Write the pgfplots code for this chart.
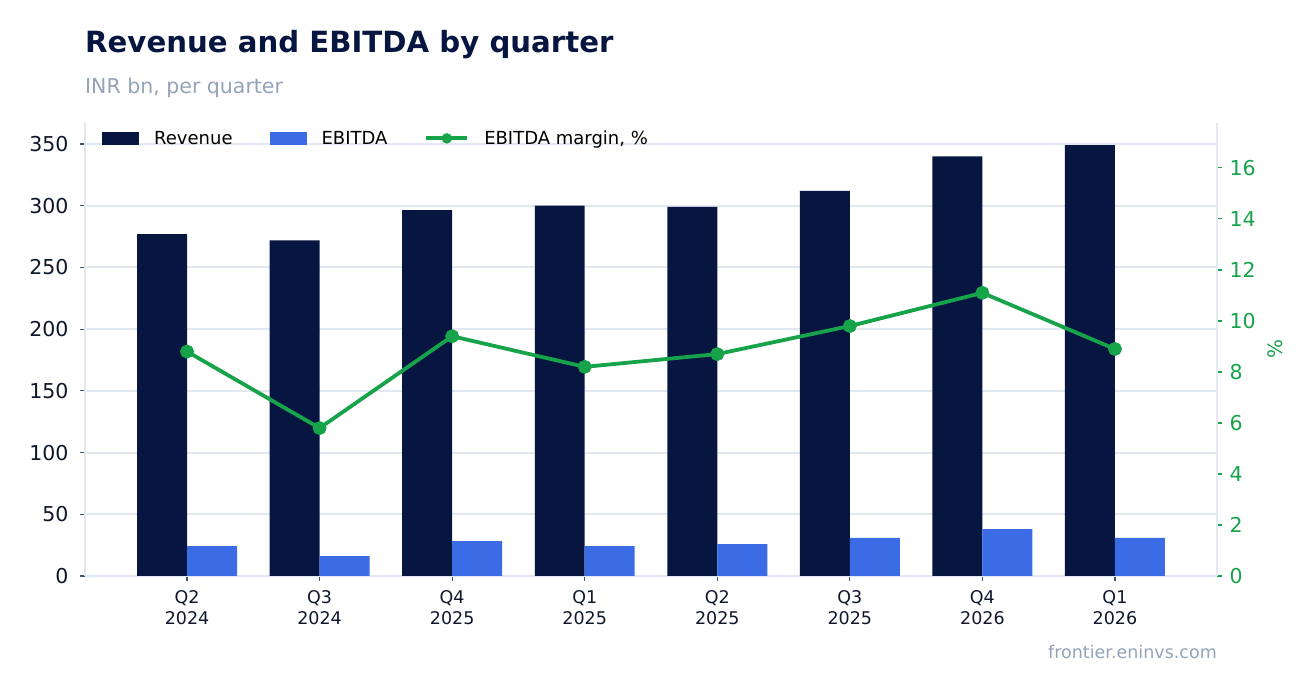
\documentclass[border=0pt]{standalone}
\usepackage{fontspec}
\setmainfont{DejaVu Sans}
\usepackage{pgfplots}
\pgfplotsset{compat=1.18}
\definecolor{navy}{RGB}{6,22,64}
\definecolor{ebit}{RGB}{59,108,229}
\definecolor{mgreen}{RGB}{22,163,74}
\definecolor{gridc}{RGB}{226,232,240}
\definecolor{subg}{RGB}{148,163,184}
\definecolor{tickc}{RGB}{71,85,105}
\definecolor{labc}{RGB}{15,23,42}
\begin{document}
\begin{tikzpicture}
\useasboundingbox (0,0) rectangle (1316pt,693pt);
\node[anchor=base west, font=\fontsize{29.2}{33}\selectfont\bfseries, text=navy, inner sep=0pt] at (85pt,640pt) {Revenue and EBITDA by quarter};
\node[anchor=base west, font=\fontsize{20.5}{24}\selectfont, text=subg, inner sep=0pt] at (85pt,599pt) {INR bn, per quarter};
\node[anchor=base east, font=\fontsize{17.5}{20}\selectfont, text=subg, inner sep=0pt] at (1217pt,35pt) {frontier.eninvs.com};

\begin{axis}[
  at={(85pt,117pt)}, anchor=south west, scale only axis,
  width=1132pt, height=453pt,
  xmin=-0.77, xmax=7.77, ymin=0, ymax=367,
  axis x line*=bottom, axis y line*=left,
  axis line style={draw=gridc, line width=2pt, -},
  xtick={0,1,2,3,4,5,6,7},
  xticklabels={{Q2\\2024},{Q3\\2024},{Q4\\2025},{Q1\\2025},{Q2\\2025},{Q3\\2025},{Q4\\2026},{Q1\\2026}},
  xticklabel style={align=center, font=\fontsize{17.5}{21}\selectfont, text=labc, yshift=-6pt},
  ytick={0,50,100,150,200,250,300,350},
  yticklabel style={font=\fontsize{20.5}{24}\selectfont, text=labc, xshift=-8pt},
  /pgf/number format/assume math mode=true,
  ymajorgrids, grid style={draw=gridc, line width=2pt},
  tick align=outside, major tick length=5pt,
  tick style={draw=tickc, line width=1.2pt},
  legend style={draw=none, fill=none, at={(rel axis cs:0.015,0.966)}, anchor=west,
    font=\fontsize{18}{20}\selectfont, inner sep=0pt, nodes={inner sep=0pt},
    /tikz/every odd column/.append style={column sep=15pt},
    /tikz/every even column/.append style={column sep=37pt}},
  legend columns=3, legend cell align=left,
]
\addplot[ybar, fill=navy, draw=none, bar width=0.377, bar shift=-0.1885,
  legend image code/.code={\fill[navy] (0pt,-6.5pt) rectangle (37pt,6.5pt);}]
  coordinates {(0,277) (1,272) (2,296.5) (3,300) (4,299) (5,312) (6,340) (7,349)};
\addplot[ybar, fill=ebit, draw=none, bar width=0.377, bar shift=0.1885,
  legend image code/.code={\fill[ebit] (0pt,-6.5pt) rectangle (37pt,6.5pt);}]
  coordinates {(0,24.3) (1,16) (2,28.2) (3,24.3) (4,25.8) (5,30.8) (6,38) (7,30.8)};
\addlegendimage{legend image code/.code={\draw[mgreen, line width=3.8pt] (0pt,0pt) -- (41pt,0pt); \fill[mgreen] (20.5pt,0pt) circle (5pt);}}
\legend{Revenue, EBITDA, {EBITDA margin, \%}}
\end{axis}

\begin{axis}[
  at={(85pt,117pt)}, anchor=south west, scale only axis,
  width=1132pt, height=453pt,
  xmin=-0.77, xmax=7.77, ymin=0, ymax=17.76,
  axis y line*=right, axis x line=none,
  axis line style={draw=gridc, line width=2pt, -},
  ytick={0,2,4,6,8,10,12,14,16},
  yticklabel style={font=\fontsize{20.5}{24}\selectfont, text=mgreen, xshift=4pt},
  /pgf/number format/assume math mode=true,
  tick align=outside, major tick length=5pt,
  tick style={draw=mgreen, line width=1.2pt},
  ylabel={\%},
  every axis y label/.style={at={(rel axis cs:1,0.5)}, xshift=58pt, rotate=90, anchor=center, font=\fontsize{20}{24}\selectfont, text=mgreen},
]
\addplot[mgreen, line width=3.8pt, mark=*, mark size=5pt, mark options={fill=mgreen, draw=none}]
  coordinates {(0,8.8) (1,5.8) (2,9.4) (3,8.2) (4,8.7) (5,9.8) (6,11.1) (7,8.9)};
\end{axis}
\end{tikzpicture}
\end{document}
